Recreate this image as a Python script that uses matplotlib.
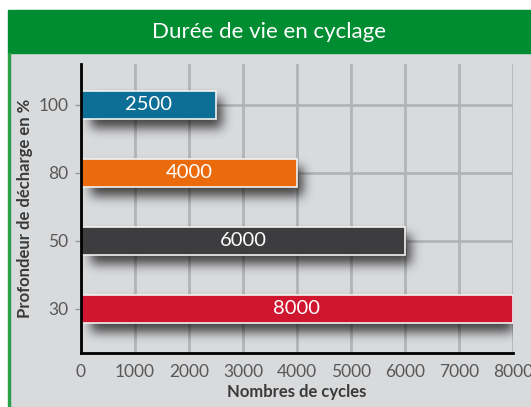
import numpy as np
import matplotlib.pyplot as plt
from matplotlib.patches import Rectangle

# data
depths = ["30", "50", "80", "100"]
cycles = [8000, 6000, 4000, 2500]
colors = ["#d0152e", "#3d3d3f", "#ea6a0c", "#0d6f95"]
xticks = [0, 1000, 2000, 3000, 4000, 5000, 6000, 7000, 8000]

W, H = 531, 407
fig = plt.figure(figsize=(W / 100, H / 100), dpi=100)
fig.patch.set_facecolor("white")

# panel background, green title band and left border
fig.add_artist(Rectangle((10 / W, 0), 1, (H - 53) / H, transform=fig.transFigure,
                         color="#d9dadc", zorder=0))
fig.add_artist(Rectangle((8 / W, (H - 53) / H), 1, 43 / H, transform=fig.transFigure,
                         color="#008d31", zorder=1))
fig.add_artist(Rectangle((8 / W, 0), 2 / W, (H - 53) / H, transform=fig.transFigure,
                         color="#2aa048", zorder=1))
fig.text((8 + 531) / 2 / W, (H - 32) / H, "Durée de vie en cyclage", color="white",
         fontsize=16, fontfamily="Lato", ha="center", va="center")

ax_l, ax_r, ax_t, ax_b = 81, 513, 64, 353
ax = fig.add_axes([ax_l / W, (H - ax_b) / H, (ax_r - ax_l) / W, (ax_b - ax_t) / H])
ax.set_facecolor("none")
xmin, xmax = 0, 8000
ymin, ymax = -0.65, 3.6
ax.set_xlim(xmin, xmax)
ax.set_ylim(ymin, ymax)

ypos = list(range(len(depths)))
bh = 0.41

# blurred drop shadow (pixel grid of the axes)
pw, ph = ax_r - ax_l, ax_b - ax_t
alpha = np.zeros((ph, pw))
for y, v in zip(ypos, cycles):
    yc = (ymax - y) / (ymax - ymin) * ph
    hh = bh / 2 / (ymax - ymin) * ph
    x1 = v / (xmax - xmin) * pw
    r0, r1 = int(yc - hh + 9), int(yc + hh + 10)
    c0, c1 = 10, int(x1 + 6)
    alpha[max(r0, 0):min(r1, ph), c0:min(c1, pw)] = 1.0
k = np.exp(-0.5 * (np.arange(-15, 16) / 5.5) ** 2)
k /= k.sum()
alpha = np.apply_along_axis(lambda r: np.convolve(r, k, mode="same"), 1, alpha)
alpha = np.apply_along_axis(lambda c: np.convolve(c, k, mode="same"), 0, alpha)
shadow = np.zeros((ph, pw, 4))
shadow[..., 3] = alpha * 0.7
ax.imshow(shadow, extent=(xmin, xmax, ymin, ymax), aspect="auto", zorder=2,
          interpolation="bilinear")

ax.barh(ypos, cycles, height=bh, color=colors, edgecolor="#f2f2f2", linewidth=1.2, zorder=3)
for y, v in zip(ypos, cycles):
    ax.text(v / 2, y, str(v), color="white", fontsize=14.5, fontfamily="Lato",
            ha="center", va="center", zorder=4)

ax.set_yticks(ypos)
ax.set_yticklabels(depths)
ax.set_xticks(xticks)
ax.set_xticklabels([str(t) for t in xticks])
ax.tick_params(axis="x", length=0, pad=8, labelsize=12.5, labelcolor="#585858")
ax.tick_params(axis="y", length=4, width=1, color="#999999", pad=5, labelsize=12.5,
               labelcolor="#585858")
for lab in ax.get_xticklabels() + ax.get_yticklabels():
    lab.set_fontfamily("Lato")

ax.grid(True, color="#b3b4b6", linewidth=2, zorder=1)
ax.set_axisbelow(True)
for s in ["top", "right"]:
    ax.spines[s].set_visible(False)
for s in ["left", "bottom"]:
    ax.spines[s].set_linewidth(2)
    ax.spines[s].set_color("black")
    ax.spines[s].set_zorder(5)

ax.set_xlabel("Nombres de cycles", fontsize=12, fontweight="bold", color="#3a3a3a",
              fontfamily="Lato", labelpad=3)
ax.set_ylabel("Profondeur de décharge en %", fontsize=12, fontweight="bold",
              color="#3a3a3a", fontfamily="Lato", labelpad=4)

fig.savefig("out.png", dpi=100)
